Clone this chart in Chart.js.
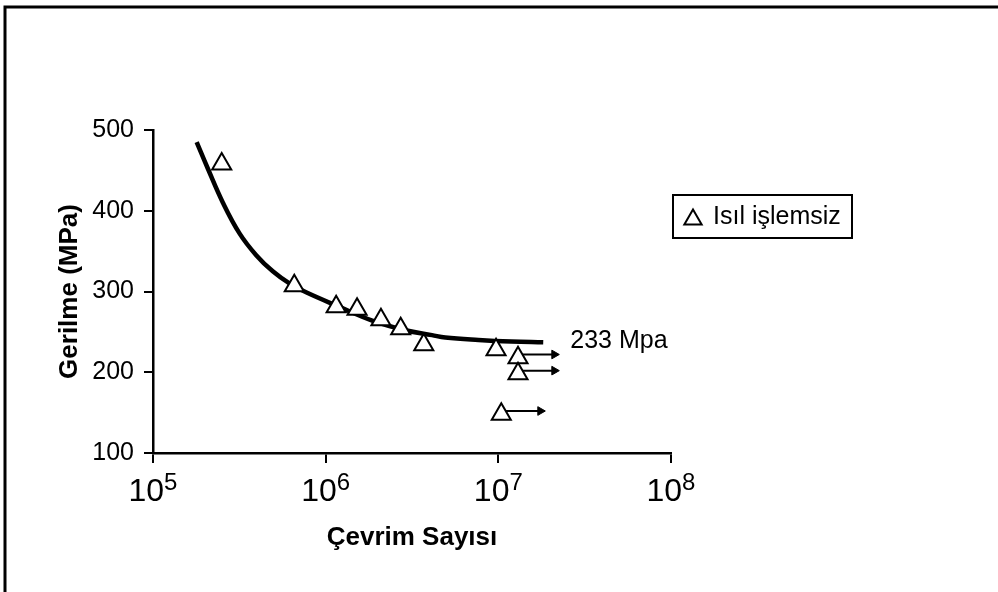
<!DOCTYPE html>
<html>
<head>
<meta charset="utf-8">
<script src="https://cdn.jsdelivr.net/npm/chart.js@4.4.1/dist/chart.umd.min.js"></script>
<style>
  html, body { margin: 0; padding: 0; background: #fff; }
  #wrap { position: relative; width: 998px; height: 592px; }
</style>
</head>
<body>
<div id="wrap"><canvas id="chart" width="998" height="592"></canvas></div>
<script>
// test results: cycles to failure / stress amplitude (MPa)
const cycles = [2.5e5, 6.58e5, 1.15e6, 1.52e6, 2.09e6, 2.72e6, 3.7e6, 9.7e6, 1.3e7, 1.3e7, 1.04e7];
const stress = [458, 307, 281, 278, 265, 254, 234, 228, 218, 198, 148];

// run-outs (no failure), drawn as arrows
const runoutFrom = [1.3e7, 1.3e7, 1.04e7];
const runoutTo = [2.11e7, 2.11e7, 1.75e7];
const runoutStress = [222, 202, 152];

// fitted S-N curve
const fitCycles = [1.79e5, 2.08e5, 2.54e5, 3.17e5, 3.96e5, 4.94e5, 6.17e5, 7.7e5, 1.2e6, 1.86e6, 2.9e6, 4.13e6, 4.93e6, 7.67e6, 1.19e7, 1.82e7];
const fitStress = [485, 452, 410, 372, 345, 325, 310, 299, 281, 264, 252, 246, 243, 240, 238, 237];

const xTicks = [1e5, 1e6, 1e7, 1e8];
const yTicks = [100, 200, 300, 400, 500];
const seriesLabel = "Isıl işlemsiz";
const limitLabel = "233 Mpa";

const FONT = "'Liberation Sans', Arial, sans-serif";

const toPoints = (xs, ys) => xs.map((x, i) => ({x, y: ys[i]}));

const arrowSets = runoutFrom.map((from, i) => ({
    data: [{x: from, y: runoutStress[i]}, {x: runoutTo[i], y: runoutStress[i]}],
    borderColor: "#000",
    borderWidth: 2,
    pointStyle: "triangle",
    pointRotation: 90,
    pointRadius: [0, 5],
    pointBackgroundColor: "#000",
    pointBorderColor: "#000",
    pointBorderWidth: 1
}));

const extras = {
    id: "extras",
    beforeDraw(chart) {
        const ctx = chart.ctx;
        ctx.save();
        ctx.fillStyle = "#fff";
        ctx.fillRect(0, 0, chart.width, chart.height);
        // outer frame (top and left only)
        ctx.strokeStyle = "#000";
        ctx.lineWidth = 3;
        ctx.beginPath();
        ctx.moveTo(5, chart.height);
        ctx.lineTo(5, 7);
        ctx.lineTo(chart.width, 7);
        ctx.stroke();
        ctx.restore();
    },
    afterDraw(chart) {
        const ctx = chart.ctx;
        const xs = chart.scales.x, ys = chart.scales.y;
        ctx.save();
        ctx.fillStyle = "#000";

        // 10^n tick labels
        xTicks.forEach(v => {
            const exp = String(Math.round(Math.log10(v)));
            ctx.font = `32px ${FONT}`;
            const wBase = ctx.measureText("10").width;
            ctx.font = `24px ${FONT}`;
            const wExp = ctx.measureText(exp).width;
            const left = xs.getPixelForValue(v) - (wBase + wExp) / 2;
            ctx.textBaseline = "alphabetic";
            ctx.textAlign = "left";
            ctx.font = `32px ${FONT}`;
            ctx.fillText("10", left, ys.bottom + 48);
            ctx.font = `24px ${FONT}`;
            ctx.fillText(exp, left + wBase, ys.bottom + 37);
        });

        // endurance limit note next to the end of the curve
        const n = fitCycles.length - 1;
        ctx.font = `25px ${FONT}`;
        ctx.textBaseline = "middle";
        ctx.fillText(limitLabel, xs.getPixelForValue(fitCycles[n]) + 27, ys.getPixelForValue(fitStress[n]) - 1);

        // boxed legend
        const bx = 673, by = 195, bw = 179, bh = 43;
        ctx.strokeStyle = "#000";
        ctx.lineWidth = 2;
        ctx.strokeRect(bx, by, bw, bh);
        ctx.fillStyle = "#fff";
        Chart.helpers.drawPoint(ctx, {pointStyle: "triangle", radius: 10, rotation: 0, borderWidth: 2}, bx + 20, by + bh / 2 + 3);
        ctx.fillStyle = "#000";
        ctx.font = `25px ${FONT}`;
        ctx.textAlign = "left";
        ctx.fillText(seriesLabel, bx + 40, by + bh / 2 + 1);
        ctx.restore();
    }
};

new Chart(document.getElementById("chart"), {
    type: "line",
    data: {
        datasets: [
            {
                label: seriesLabel,
                data: toPoints(cycles, stress),
                showLine: false,
                pointStyle: "triangle",
                pointRadius: 11,
                pointBorderWidth: 2,
                pointBorderColor: "#000",
                pointBackgroundColor: "#fff"
            },
            ...arrowSets,
            {
                data: toPoints(fitCycles, fitStress),
                borderColor: "#000",
                borderWidth: 4.5,
                pointRadius: 0,
                tension: 0.4
            }
        ]
    },
    options: {
        responsive: false,
        animation: false,
        layout: {padding: {top: 130, right: 327, left: 0, bottom: 0}},
        plugins: {legend: {display: false}, tooltip: {enabled: false}},
        scales: {
            x: {
                type: "logarithmic",
                min: 1e5,
                max: 1e8,
                afterBuildTicks: (s) => { s.ticks = xTicks.map(v => ({value: v})); },
                afterFit: (s) => { s.height = 139; },
                ticks: {display: false},
                grid: {drawOnChartArea: false, drawTicks: true, tickLength: 10, color: "#000", lineWidth: 2},
                border: {color: "#000", width: 2.5},
                title: {
                    display: true,
                    text: "Çevrim Sayısı",
                    color: "#000",
                    font: {family: FONT, size: 26, weight: "bold"},
                    padding: {top: 0, bottom: 39}
                }
            },
            y: {
                min: 100,
                max: 500,
                afterBuildTicks: (s) => { s.ticks = yTicks.map(v => ({value: v})); },
                afterFit: (s) => { s.width = 153; },
                ticks: {color: "#000", padding: 10, font: {family: FONT, size: 25}},
                grid: {drawOnChartArea: false, drawTicks: true, tickLength: 9, color: "#000", lineWidth: 2},
                border: {color: "#000", width: 2.5},
                title: {
                    display: true,
                    text: "Gerilme (MPa)",
                    color: "#000",
                    font: {family: FONT, size: 26, weight: "bold"},
                    padding: {top: 54, bottom: 0}
                }
            }
        }
    },
    plugins: [extras]
});
</script>
</body>
</html>
